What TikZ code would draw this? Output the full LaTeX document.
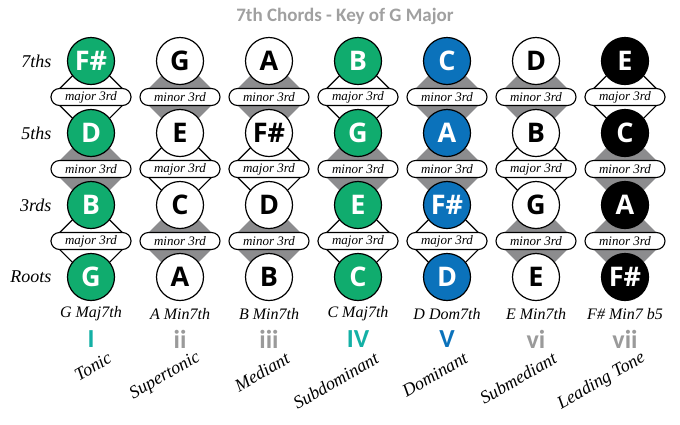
\documentclass[tikz,border=0pt]{standalone}
\usepackage{fontspec}
\usepackage{xcolor}
\usepackage{tikz}
\usetikzlibrary{shapes.geometric}
\setmainfont{Liberation Serif}
\newfontfamily\notesans{Open Sans}
\newfontfamily\calsans{Carlito}
\newcommand\notefont{\notesans\bfseries\fontsize{27}{29}\selectfont}
\newcommand\numfont{\calsans\bfseries\fontsize{26}{28}\selectfont}
\newcommand\titlefont{\calsans\bfseries\fontsize{19}{21}\selectfont}
\newcommand\pillfont{\itshape\fontsize{13}{15}\selectfont}
\newcommand\chordfont{\itshape\fontsize{16}{18}\selectfont}
\newcommand\rowfont{\itshape\fontsize{18}{20}\selectfont}
\definecolor{chordgreen}{HTML}{10AC6E}
\definecolor{chordblue}{HTML}{0B72BB}
\definecolor{numteal}{HTML}{13B0A5}
\definecolor{numgray}{HTML}{9A9A9A}
\definecolor{diagray}{HTML}{8C8C8E}
\definecolor{titlegray}{HTML}{A0A0A0}
\begin{document}
\begin{tikzpicture}[x=1pt,y=-1pt,
    note/.style={circle,draw,line width=1.2pt,minimum size=47pt,inner sep=0pt,font=\notefont},
    major/.style={diamond,draw,fill=white,line width=1.1pt,minimum width=80pt,minimum height=80pt,inner sep=0pt},
    minor/.style={diamond,fill=diagray,minimum width=80pt,minimum height=80pt,inner sep=0pt},
    pill/.style={draw,fill=white,line width=1.1pt,rounded corners=8.5pt,minimum width=80pt,minimum height=17pt,inner sep=0pt,font=\pillfont}]
    \useasboundingbox (0,0) rectangle (680,424);
    \node[font=\titlefont,text=titlegray] (title) at (345,16) {7th Chords - Key of G Major};
    % row labels
    \foreach \r/\y in {7ths/61,5ths/133,3rds/205,Roots/277}
      \node[anchor=east,font=\rowfont] (row-\r) at (55,\y) {\r};
    % one column per chord: root, 3rd, 5th, 7th
    \foreach \k/\na/\nb/\nc/\nd/\fc/\tc/\ia/\ib/\ic/\chord/\num/\numc/\func [evaluate=\k as \px using 91+89*(\k-1)] in {
        1/G/B/D/F\#/chordgreen/white/major/minor/major/G Maj7th/I/numteal/Tonic,
        2/A/C/E/G/white/black/minor/major/minor/A Min7th/ii/numgray/Supertonic,
        3/B/D/F\#/A/white/black/minor/major/minor/B Min7th/iii/numgray/Mediant,
        4/C/E/G/B/chordgreen/white/major/minor/major/C Maj7th/IV/numteal/Subdominant,
        5/D/F\#/A/C/chordblue/white/major/minor/minor/D Dom7th/V/chordblue/Dominant,
        6/E/G/B/D/white/black/minor/major/minor/E Min7th/vi/numgray/Submediant,
        7/F\#/A/C/E/black/white/minor/minor/major/F\# Min7 b5/vii/numgray/Leading Tone} {
      \node[\ia] (d-\k-1) at (\px,241) {};
      \node[\ib] (d-\k-2) at (\px,169) {};
      \node[\ic] (d-\k-3) at (\px,97) {};
      \node[note,fill=\fc,text=\tc] (n-\k-0) at (\px,277) {\na};
      \node[note,fill=\fc,text=\tc] (n-\k-1) at (\px,205) {\nb};
      \node[note,fill=\fc,text=\tc] (n-\k-2) at (\px,133) {\nc};
      \node[note,fill=\fc,text=\tc] (n-\k-3) at (\px,61) {\nd};
      \node[pill] (p-\k-1) at (d-\k-1) {\ia\ 3rd};
      \node[pill] (p-\k-2) at (d-\k-2) {\ib\ 3rd};
      \node[pill] (p-\k-3) at (d-\k-3) {\ic\ 3rd};
      \node[font=\chordfont] (c-\k) at (\px,314) {\chord};
      \node[font=\numfont,text=\numc] (num-\k) at (\px,339) {\num};
      \node[rotate=30,anchor=east,font=\rowfont] (f-\k) at (\px+22,355) {\func};
    }
\end{tikzpicture}
\end{document}
